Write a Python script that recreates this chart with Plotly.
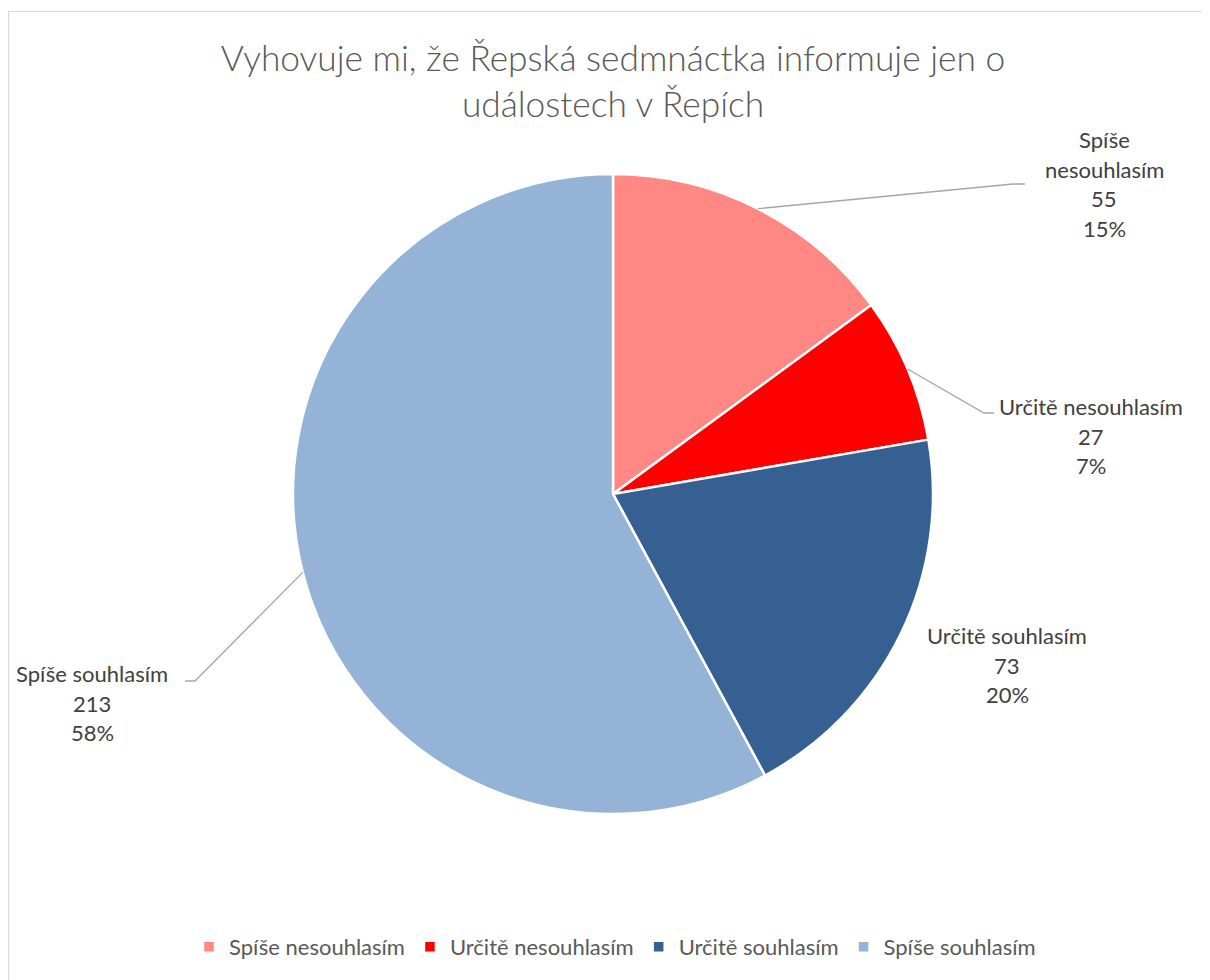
import math
import plotly.graph_objects as go

categories = ["Spíše nesouhlasím", "Určitě nesouhlasím", "Určitě souhlasím", "Spíše souhlasím"]
values = [55, 27, 73, 213]
label_lines = [["Spíše", "nesouhlasím"], ["Určitě nesouhlasím"], ["Určitě souhlasím"], ["Spíše souhlasím"]]
colors = ["#FF8884", "#FF0000", "#376092", "#95B3D7"]
title_text = "Vyhovuje mi, že Řepská sedmnáctka informuje jen o<br>událostech v Řepích"

W, H = 1210, 980
OFF = 8  # page body margin
CX, CY, R = 613, 494, 320
FONT = "Lato"

# label placement (screen pixels): center x, middle y, leader elbow (x,y), leader end x
label_pos = [
    dict(x=1104, y=184, elbow=(1013, 184), end=1025),
    dict(x=1091, y=436, elbow=(984, 413), end=994),
    dict(x=1007, y=665, elbow=None, end=None),
    dict(x=92, y=703, elbow=(195, 681), end=185),
]
LINE_H = 29.5


def px(x):
    return (x - OFF) / W


def py(y):
    return 1 - (y - OFF) / H


fig = go.Figure()
fig.add_trace(go.Pie(
    labels=categories, values=values, sort=False, direction="clockwise", rotation=0,
    marker=dict(colors=colors, line=dict(color="white", width=2.5)),
    textinfo="none", hoverinfo="label+value+percent",
    domain=dict(x=[px(CX - R), px(CX + R)], y=[py(CY + R), py(CY - R)]),
))

total = sum(values)
cum = 0
annotations = []
shapes = []
for i, (cat, v) in enumerate(zip(categories, values)):
    mid = (cum + v / 2) / total * 2 * math.pi
    cum += v
    pct = f"{round(v / total * 100)}%"
    lines = label_lines[i] + [str(v), pct]
    lp = label_pos[i]
    n = len(lines)
    for j, t in enumerate(lines):
        yy = lp["y"] + (j - (n - 1) / 2) * LINE_H
        annotations.append(dict(
            x=px(lp["x"]), y=py(yy), xref="paper", yref="paper", text=t, showarrow=False,
            xanchor="center", yanchor="middle",
            font=dict(family=FONT, size=22, color="#404040"),
        ))
    if lp["elbow"] is not None:
        ex = CX + R * math.sin(mid)
        ey = CY - R * math.cos(mid)
        bx, by = lp["elbow"]
        path = f"M {px(ex)} {py(ey)} L {px(bx)} {py(by)} L {px(lp['end'])} {py(by)}"
        shapes.append(dict(type="path", xref="paper", yref="paper", path=path,
                           line=dict(color="#A6A6A6", width=1.3)))

# chart border
shapes.append(dict(type="rect", xref="paper", yref="paper",
                   x0=px(8.6), y0=py(1000), x1=px(1240), y1=py(11.5),
                   line=dict(color="#D9D9D9", width=1.2), fillcolor="rgba(0,0,0,0)"))

fig.update_layout(
    width=W, height=H,
    margin=dict(l=0, r=0, t=0, b=0),
    paper_bgcolor="white", plot_bgcolor="white",
    title=dict(text=title_text, x=px(613), xanchor="center", y=py(71), yanchor="middle",
               font=dict(family=FONT, size=35.3, color="#595959", weight=300)),
    showlegend=True,
    legend=dict(orientation="h", x=px(615), xanchor="center", y=py(947), yanchor="middle",
                font=dict(family=FONT, size=22, color="#595959"), itemwidth=30),
    annotations=annotations, shapes=shapes,
)

fig.write_html("out.html")
